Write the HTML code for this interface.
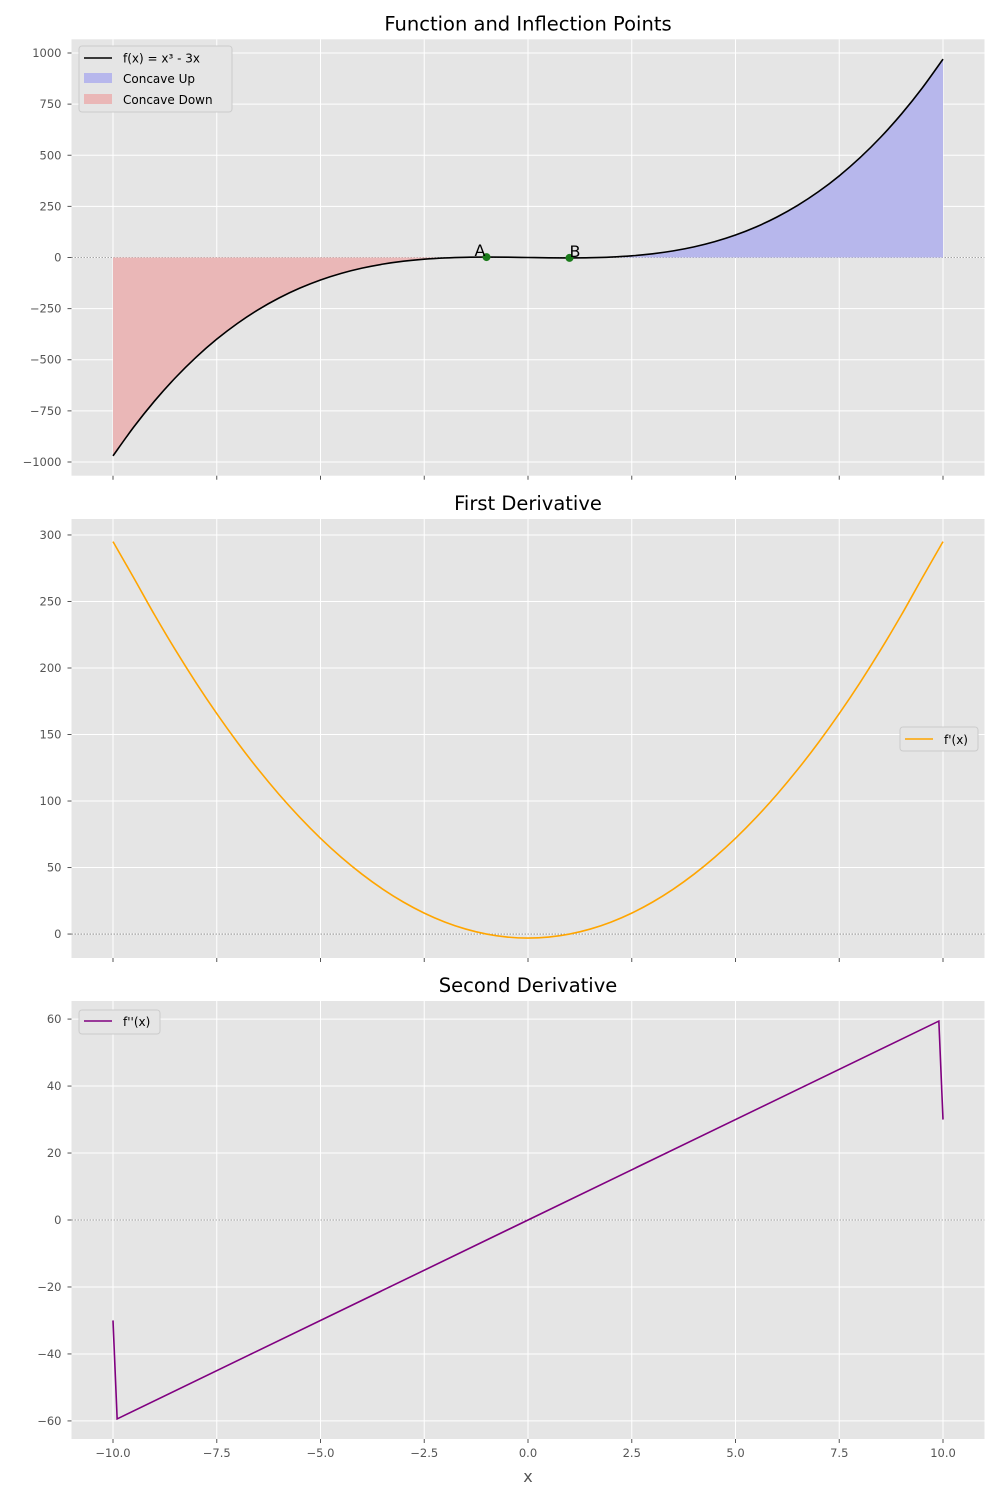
<!DOCTYPE html>
<html><head><meta charset="utf-8"><style>
body{margin:0;background:#fff;}
svg{display:block;font-family:"DejaVu Sans","Liberation Sans",sans-serif;}
</style></head><body>
<svg id="c" width="1000" height="1500" viewBox="0 0 1000 1500" xmlns="http://www.w3.org/2000/svg"></svg>
<script>
const xs=[-10,-9.5,-9,-8.5,-8,-7.5,-7,-6.5,-6,-5.5,-5,-4.5,-4,-3.5,-3,-2.5,-2,-1.5,-1,-0.5,0,0.5,1,1.5,2,2.5,3,3.5,4,4.5,5,5.5,6,6.5,7,7.5,8,8.5,9,9.5,10];
const fVals=[-970,-828.9,-702,-588.6,-488,-399.4,-322,-255.1,-198,-149.9,-110,-77.6,-52,-32.4,-18,-8.1,-2,1.1,2,1.4,0,-1.4,-2,-1.1,2,8.1,18,32.4,52,77.6,110,149.9,198,255.1,322,399.4,488,588.6,702,828.9,970];
const d1Vals=[295,267.75,240,213.75,189,165.75,144,123.75,105,87.75,72,57.75,45,33.75,24,15.75,9,3.75,0,-2.25,-3,-2.25,0,3.75,9,15.75,24,33.75,45,57.75,72,87.75,105,123.75,144,165.75,189,213.75,240,267.75,295];
const d2X=[-10,-9.9,9.9,10];
const d2Vals=[-30,-59.4,59.4,30];
const inflX=[-1,1];
const inflY=[2,-2];
const inflLabels=["A","B"];
const xTicks=[-10,-7.5,-5,-2.5,0,2.5,5,7.5,10];
const y1Ticks=[-1000,-750,-500,-250,0,250,500,750,1000];
const y2Ticks=[0,50,100,150,200,250,300];
const y3Ticks=[-60,-40,-20,0,20,40,60];

const NS="http://www.w3.org/2000/svg";
const svg=document.getElementById('c');
function el(tag,attrs,parent,text){const e=document.createElementNS(NS,tag);for(const k in attrs)e.setAttribute(k,attrs[k]);if(text!==undefined)e.textContent=text;(parent||svg).appendChild(e);return e;}
const L=71.5,R=984.5;
const X=x=>L+(x+11)/22*(R-L);
function fmtX(v){return v.toFixed(1).replace('-','\u2212');}
function smooth(pts){let d='M'+pts[0][0]+','+pts[0][1];for(let i=0;i<pts.length-1;i++){const p0=pts[i-1]||pts[i],p1=pts[i],p2=pts[i+1],p3=pts[i+2]||p2;const c1=[p1[0]+(p2[0]-p0[0])/6,p1[1]+(p2[1]-p0[1])/6],c2=[p2[0]-(p3[0]-p1[0])/6,p2[1]-(p3[1]-p1[1])/6];d+=' C'+c1+' '+c2+' '+p2;}return d;}
function panel(name,top,bot,ymin,ymax,yt,title,showX){
  const g=el('g',{},svg);
  const Y=v=>bot-(v-ymin)/(ymax-ymin)*(bot-top);
  el('rect',{x:L,y:top,width:R-L,height:bot-top,fill:'#e5e5e5'},g);
  xTicks.forEach(t=>{el('line',{x1:X(t),x2:X(t),y1:top,y2:bot,stroke:'#fff','stroke-width':1},g);
    el('line',{x1:X(t),x2:X(t),y1:bot,y2:bot+4,stroke:'#555'},g);
    if(showX){const tx=el('text',{x:X(t),y:bot+18,'font-size':11.5,fill:'#555','text-anchor':'middle'},g,fmtX(t));}});
  yt.forEach(t=>{el('line',{x1:L,x2:R,y1:Y(t),y2:Y(t),stroke:'#fff','stroke-width':1},g);
    el('line',{x1:L-4,x2:L,y1:Y(t),y2:Y(t),stroke:'#555'},g);
    const tx=el('text',{x:L-10,y:Y(t)+4,'font-size':11.5,fill:'#555','text-anchor':'end'},g,String(t).replace('-','\u2212'));});
  el('line',{x1:L,x2:R,y1:Y(0),y2:Y(0),stroke:'#888','stroke-width':0.8,'stroke-dasharray':'1.5,1.5'},g);
  const tt=el('text',{x:(L+R)/2,y:top-9,'font-size':19.5,fill:'#000','text-anchor':'middle'},g,title);
  
  return {g,Y};
}
let p=panel('function-panel',39.3,475.7,-1067,1067,y1Ticks,'Function and Inflection Points',false);
let Y=p.Y;
let neg=[],pos=[];
xs.forEach((x,i)=>{if(x<=0)neg.push([X(x),Y(fVals[i])]);if(x>=0)pos.push([X(x),Y(fVals[i])]);});
let fd=el('path',{d:smooth(neg)+` L${X(0)},${Y(0)} L${X(-10)},${Y(0)} Z`,fill:'rgb(234,183,183)'},p.g);

let fu=el('path',{d:smooth(pos)+` L${X(10)},${Y(0)} L${X(0)},${Y(0)} Z`,fill:'rgb(183,183,236)'},p.g);

let fl=el('path',{d:smooth(xs.map((x,i)=>[X(x),Y(fVals[i])])),fill:'none',stroke:'#000','stroke-width':1.6},p.g);

inflX.forEach((x,i)=>{const c=el('circle',{cx:X(x),cy:Y(inflY[i]),r:4,fill:'#1a7a1a'},p.g);
  const t=el('text',{x:X(x)+(i==0?-12:0),y:Y(inflY[i])-1,'font-size':16,fill:'#000'},p.g,inflLabels[i]);});
let lg=el('g',{},p.g);
el('rect',{x:79,y:46,width:153,height:66,fill:'#e5e5e5',stroke:'#ccc',rx:3},lg);
el('line',{x1:84,x2:112,y1:58,y2:58,stroke:'#000','stroke-width':1.6},lg);
el('text',{x:123,y:62.5,'font-size':12},lg,'f(x) = x³ - 3x');
el('rect',{x:84,y:73,width:28,height:10,fill:'rgb(183,183,236)'},lg);
el('text',{x:123,y:83,'font-size':12},lg,'Concave Up');
el('rect',{x:84,y:94,width:28,height:10,fill:'rgb(234,183,183)'},lg);
el('text',{x:123,y:104,'font-size':12},lg,'Concave Down');
p=panel('first-derivative-panel',519,958,-18,312,y2Ticks,'First Derivative',false);Y=p.Y;
let d1=el('path',{d:smooth(xs.map((x,i)=>[X(x),Y(d1Vals[i])])),fill:'none',stroke:'orange','stroke-width':1.6},p.g);

lg=el('g',{},p.g);
el('rect',{x:900,y:727,width:78,height:24,fill:'#e5e5e5',stroke:'#ccc',rx:3},lg);
el('line',{x1:905,x2:933,y1:739,y2:739,stroke:'orange','stroke-width':1.6},lg);
el('text',{x:944,y:744,'font-size':12},lg,"f'(x)");
p=panel('second-derivative-panel',1001,1439,-65.4,65.4,y3Ticks,'Second Derivative',true);Y=p.Y;
let d2=el('polyline',{points:d2X.map((x,i)=>X(x)+','+Y(d2Vals[i])).join(' '),fill:'none',stroke:'purple','stroke-width':1.6},p.g);

lg=el('g',{},p.g);
el('rect',{x:79,y:1010,width:81,height:24,fill:'#e5e5e5',stroke:'#ccc',rx:3},lg);
el('line',{x1:84,x2:112,y1:1021,y2:1021,stroke:'purple','stroke-width':1.6},lg);
el('text',{x:123,y:1026,'font-size':12},lg,"f''(x)");
let xl=el('text',{x:(L+R)/2,y:1482,'font-size':16,fill:'#555','text-anchor':'middle'},svg,'x');

</script>
</body></html>
